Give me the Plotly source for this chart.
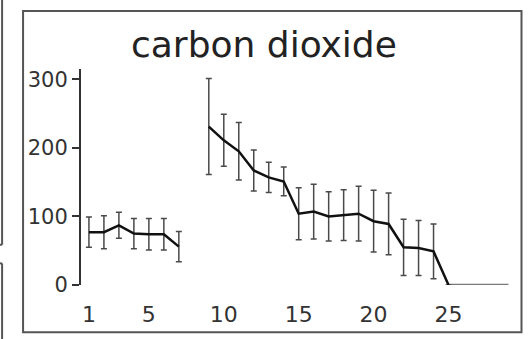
import plotly.graph_objects as go

W, H = 528, 339
# data
positions = list(range(1, 26))
means = [77, 77, 87, 75, 74, 74, 56, None,
         231, 211, 195, 167, 157, 151, 104, 107, 100, 102, 104, 93, 89, 55, 54, 49, 0]
errors = [22, 24, 19, 22, 23, 23, 22, None,
          70, 38, 42, 30, 22, 21, 38, 40, 36, 37, 40, 45, 45, 41, 40, 40, 0]
tail_positions = [25, 26, 27, 28, 29]
tail_values = [0, 0, 0, 0, 0]
x_ticks = [1, 5, 10, 15, 20, 25]
y_ticks = [0, 100, 200, 300]
title_text = "carbon dioxide"

ML, MR, MT, MB = 81, 11.5, 69, 50
PW, PH = W - ML - MR, H - MT - MB

def px(x):
    return (x - ML) / PW

def py(y):
    return (H - MB - y) / PH

FONT = "DejaVu Sans"

fig = go.Figure()
fig.add_trace(go.Scatter(
    x=tail_positions, y=tail_values, mode="lines",
    line=dict(color="#7a7a7a", width=2.5), cliponaxis=False, hoverinfo="skip"))
fig.add_trace(go.Scatter(
    x=positions, y=means, mode="lines",
    line=dict(color="#111111", width=2.5),
    error_y=dict(type="data", array=errors, visible=True,
                 color="#4a4a4a", thickness=1.5, width=3),
    connectgaps=False, cliponaxis=False))

shapes = []
frame_col = "#555555"
# main frame
shapes.append(dict(type="rect", xref="paper", yref="paper",
                   x0=px(23), x1=px(522), y0=py(10), y1=py(337),
                   line=dict(color=frame_col, width=2)))
# neighbouring panel edges on the left
shapes.append(dict(type="line", xref="paper", yref="paper",
                   x0=px(2), x1=px(2), y0=py(-5), y1=py(248),
                   line=dict(color=frame_col, width=2)))
shapes.append(dict(type="line", xref="paper", yref="paper",
                   x0=px(-5), x1=px(2), y0=py(248), y1=py(248),
                   line=dict(color=frame_col, width=2)))
shapes.append(dict(type="line", xref="paper", yref="paper",
                   x0=px(2), x1=px(2), y0=py(267), y1=py(345),
                   line=dict(color=frame_col, width=2)))
shapes.append(dict(type="line", xref="paper", yref="paper",
                   x0=px(-5), x1=px(2), y0=py(267), y1=py(267),
                   line=dict(color=frame_col, width=2)))

fig.update_layout(
    width=W, height=H,
    margin=dict(l=ML, r=MR, t=MT, b=MB, pad=0),
    paper_bgcolor="white", plot_bgcolor="white",
    showlegend=False,
    font=dict(family=FONT, color="#333333", size=22),
    shapes=shapes,
    annotations=[dict(text=title_text, xref="paper", yref="paper",
                      x=px(264), y=py(44), xanchor="center", yanchor="middle",
                      showarrow=False, font=dict(family=FONT, size=36, color="#222222"))],
)
fig.update_xaxes(
    range=[0.47, 0.47 + PW / 15.0], tickvals=x_ticks, ticktext=[str(t) for t in x_ticks],
    showline=False, showgrid=False, zeroline=False, ticks="", ticklabelstandoff=14,
    tickfont=dict(size=22, color="#333333"))
fig.update_yaxes(
    range=[0, 315], tickvals=y_ticks, ticktext=[str(t) for t in y_ticks],
    showline=True, linecolor="#333333", linewidth=2,
    ticks="outside", ticklen=7, tickwidth=1.5, tickcolor="#333333",
    showgrid=False, zeroline=False,
    tickfont=dict(size=21, color="#333333"))

fig.write_html("out.html", config={"displayModeBar": False},
               post_script="document.body.style.margin='0';document.documentElement.style.overflow='hidden';")
